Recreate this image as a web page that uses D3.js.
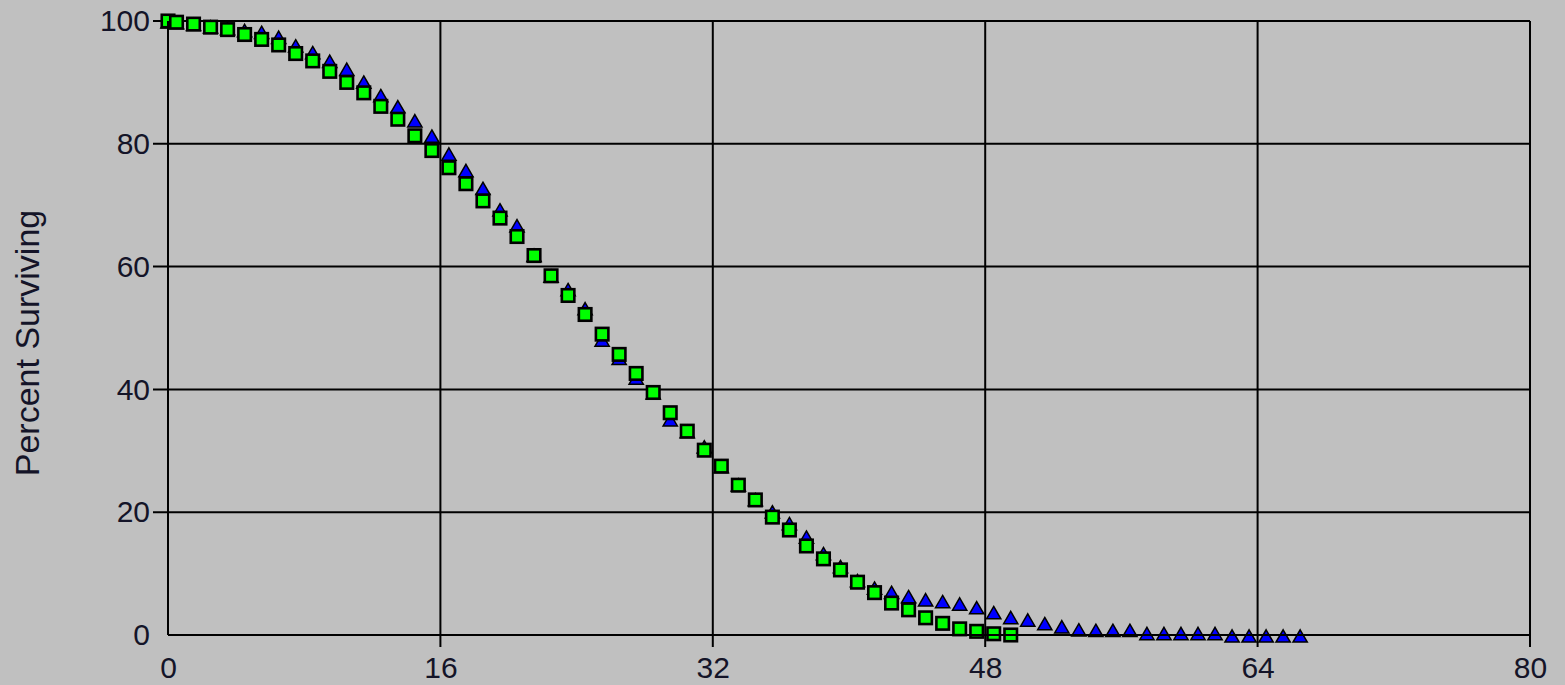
<!DOCTYPE html>
<html>
<head>
<meta charset="utf-8">
<script src="https://cdn.jsdelivr.net/npm/d3@7"></script>
<style>
  html, body { margin: 0; padding: 0; background: #c0c0c0; }
  svg { display: block; }
  text { font-family: "Liberation Sans", Arial, sans-serif; fill: #141428; }
</style>
</head>
<body>
<svg id="chart" width="1565" height="685"></svg>
<script>
// x values (age) for each series
let triangleAges = [0, 0.5, 1.5, 2.5, 3.5, 4.5, 5.5, 6.5, 7.5, 8.5, 9.5, 10.5, 11.5, 12.5, 13.5, 14.5,
    15.5, 16.5, 17.5, 18.5, 19.5, 20.5, 21.5, 22.5, 23.5, 24.5, 25.5, 26.5, 27.5, 28.5, 29.5, 30.5,
    31.5, 32.5, 33.5, 34.5, 35.5, 36.5, 37.5, 38.5, 39.5, 40.5, 41.5, 42.5, 43.5, 44.5, 45.5, 46.5,
    47.5, 48.5, 49.5, 50.5, 51.5, 52.5, 53.5, 54.5, 55.5, 56.5, 57.5, 58.5, 59.5, 60.5, 61.5, 62.5,
    63.5, 64.5, 65.5, 66.5];
let triangleValues = [100, 99.9, 99.6, 99.2, 98.9, 98.6, 98.3, 97.5, 96.1, 95.0, 93.6, 92.3, 90.2, 88.0, 86.2, 83.9,
    81.4, 78.5, 75.8, 72.9, 69.4, 66.8, 62.0, 58.6, 56.4, 53.3, 48.2, 45.2, 42.0, 39.6, 35.2, 33.3,
    30.8, 27.6, 24.6, 22.2, 20.2, 18.3, 16.1, 13.4, 11.3, 9.0, 7.8, 7.1, 6.4, 5.9, 5.6, 5.2,
    4.6, 3.8, 3.0, 2.6, 2.0, 1.5, 1.0, 0.9, 0.9, 0.9, 0.4, 0.4, 0.4, 0.4, 0.4, 0,
    0, 0, 0, 0];

let squareAges = [0, 0.5, 1.5, 2.5, 3.5, 4.5, 5.5, 6.5, 7.5, 8.5, 9.5, 10.5, 11.5, 12.5, 13.5, 14.5,
    15.5, 16.5, 17.5, 18.5, 19.5, 20.5, 21.5, 22.5, 23.5, 24.5, 25.5, 26.5, 27.5, 28.5, 29.5, 30.5,
    31.5, 32.5, 33.5, 34.5, 35.5, 36.5, 37.5, 38.5, 39.5, 40.5, 41.5, 42.5, 43.5, 44.5, 45.5, 46.5,
    47.5, 48.5, 49.5];
let squareValues = [100, 99.8, 99.5, 99.0, 98.6, 97.8, 97.0, 96.1, 94.7, 93.5, 91.8, 90.0, 88.3, 86.1, 84.0, 81.3,
    78.9, 76.1, 73.5, 70.7, 67.9, 64.9, 61.8, 58.5, 55.3, 52.2, 49.0, 45.7, 42.6, 39.5, 36.2, 33.2,
    30.1, 27.5, 24.4, 22.0, 19.2, 17.1, 14.5, 12.4, 10.6, 8.6, 6.9, 5.2, 4.1, 2.8, 1.9, 1.0,
    0.6, 0.2, 0];

let xTicks = [0, 16, 32, 48, 64, 80];
let yTicks = [0, 20, 40, 60, 80, 100];
let yTitle = "Percent Surviving";

let svg = d3.select("#chart");
let margin = {left: 168, right: 35, top: 21, bottom: 50};
let width = 1565, height = 685;

let x = d3.scaleLinear().domain([0, 80]).range([margin.left, width - margin.right]);
let y = d3.scaleLinear().domain([0, 100]).range([height - margin.bottom, margin.top]);

// grid lines (they stick out past the axes like tick marks)
let grid = svg.append("g").attr("stroke", "#000").attr("stroke-width", 2);
grid.selectAll(".vgrid")
    .data(xTicks.filter(d => d > 0))
    .join("line")
    .attr("class", "vgrid")
    .attr("x1", d => x(d)).attr("x2", d => x(d))
    .attr("y1", y(100)).attr("y2", y(0) + 12);
grid.selectAll(".hgrid")
    .data(yTicks.filter(d => d > 0))
    .join("line")
    .attr("class", "hgrid")
    .attr("x1", x(0) - 15).attr("x2", x(80))
    .attr("y1", d => y(d)).attr("y2", d => y(d));

// triangles first, squares drawn over them
let tri = d3.symbol().type(d3.symbolTriangle).size(88);
svg.append("g")
    .selectAll("path")
    .data(triangleAges.map((a, i) => ({age: a, v: triangleValues[i]})))
    .join("path")
    .attr("d", tri)
    .attr("transform", d => "translate(" + x(d.age) + "," + (y(d.v) + 3) + ")")
    .attr("fill", "#0000ff")
    .attr("stroke", "#000")
    .attr("stroke-width", 1.5);

let sq = 12.5;
svg.append("g")
    .selectAll("rect")
    .data(squareAges.map((a, i) => ({age: a, v: squareValues[i]})))
    .join("rect")
    .attr("x", d => x(d.age) - sq / 2)
    .attr("y", d => y(d.v) - sq / 2)
    .attr("width", sq).attr("height", sq)
    .attr("fill", "#00ff00")
    .attr("stroke", "#000")
    .attr("stroke-width", 2.6);

// axis lines on top
svg.append("line")
    .attr("x1", x(0)).attr("x2", x(0)).attr("y1", y(0)).attr("y2", y(100))
    .attr("stroke", "#000").attr("stroke-width", 2);
svg.append("line")
    .attr("x1", x(0)).attr("x2", x(80)).attr("y1", y(0)).attr("y2", y(0))
    .attr("stroke", "#000").attr("stroke-width", 2);

// tick labels
let xAxis = svg.append("g")
    .attr("transform", "translate(0," + y(0) + ")")
    .call(d3.axisBottom(x).tickValues(xTicks).tickSize(0).tickPadding(22).tickFormat(d3.format("d")));
let yAxis = svg.append("g")
    .attr("transform", "translate(" + x(0) + ",0)")
    .call(d3.axisLeft(y).tickValues(yTicks).tickSize(0).tickPadding(18).tickFormat(d3.format("d")));
[xAxis, yAxis].forEach(g => {
    g.select(".domain").remove();
    g.selectAll("text").attr("font-size", 30).attr("font-family", null).style("fill", "#141428");
});

svg.append("text")
    .attr("transform", "translate(39," + ((y(0) + y(100)) / 2 + 15) + ") rotate(-90)")
    .attr("text-anchor", "middle")
    .attr("font-size", 34)
    .text(yTitle);
</script>
</body>
</html>
